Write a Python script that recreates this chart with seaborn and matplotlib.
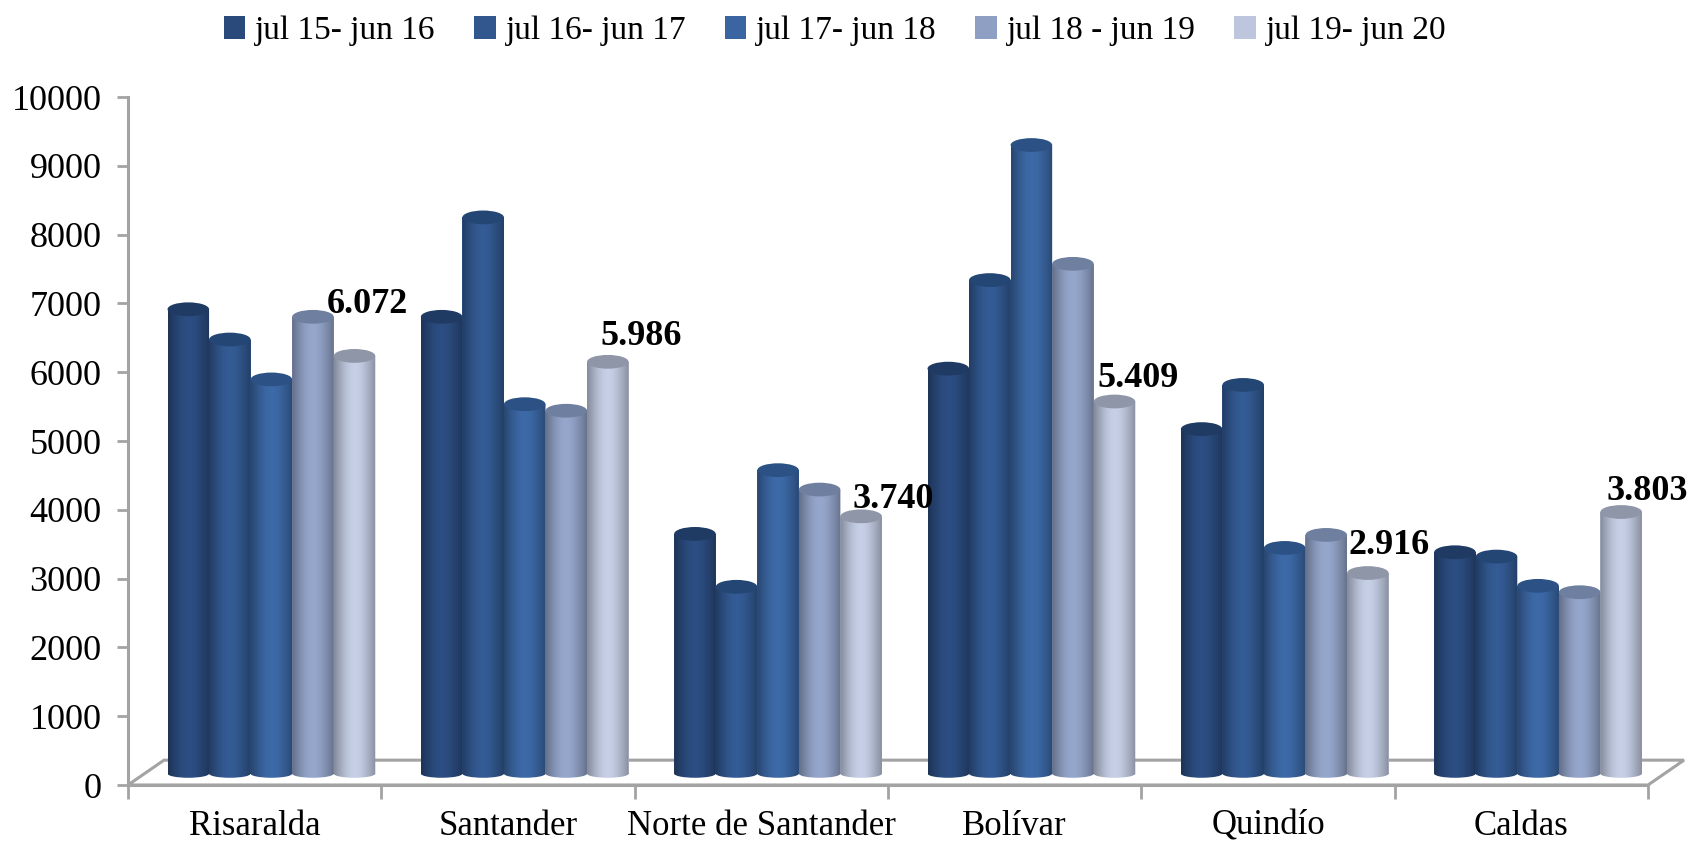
import numpy as np
import pandas as pd
import matplotlib
matplotlib.use('Agg')
import matplotlib.pyplot as plt
from matplotlib.patches import Ellipse, Polygon, PathPatch
from matplotlib.path import Path
import seaborn as sns

departamentos = ['Risaralda', 'Santander', 'Norte de Santander', 'Bolívar', 'Quindío', 'Caldas']
periodos = ['jul 15- jun 16', 'jul 16- jun 17', 'jul 17- jun 18', 'jul 18 - jun 19', 'jul 19- jun 20']

jul15 = [6750, 6640, 3485, 5887, 5008, 3218]
jul16 = [6310, 8085, 2716, 7174, 5650, 3155]
jul17 = [5730, 5370, 4411, 9137, 3281, 2730]
jul18 = [6640, 5275, 4129, 7410, 3470, 2637]
jul19 = [6072, 5986, 3740, 5409, 2916, 3803]

colores = ['#2a4a7c', '#31578e', '#3a65a0', '#8f9fc3', '#bdc6dc']
tapas = ['#1f3a63', '#234674', '#2c5285', '#6f7f9f', '#8e96a8']

# los desplazamientos de las etiquetas (puntos)
etiqueta_dx = [9, 24, 23, 17, 15, 19]
etiqueta_dy = [25, 6, 0, 5, 8, 3]

base = 165      # las barras arrancan un poco detras del eje
fondo = 361     # linea de atras del piso
gris = '#a3a3a3'

df = pd.DataFrame({'departamento': departamentos * 5,
                   'periodo': np.repeat(periodos, 6),
                   'valor': jul15 + jul16 + jul17 + jul18 + jul19})

plt.rcParams['font.family'] = ['Liberation Serif', 'DejaVu Serif']

fig = plt.figure(figsize=(16.92, 8.41), dpi=100)
ax = fig.add_axes([128 / 1692, 1 - 785 / 841, (1648 - 128) / 1692, (785 - 97) / 841])

sns.barplot(data=df, x='departamento', y='valor', hue='periodo', palette=colores,
            saturation=1, width=0.82, gap=0, ax=ax, errorbar=None, zorder=3)

desp = 0.066
x_min, x_max = -0.5 - desp, 5.5 - desp
alto_tapa = 200

# cilindros con degradado encima de cada barra
perfil = np.array([0.70, 0.80, 0.90, 0.98, 1.03, 1.05, 1.03, 0.98, 0.90, 0.82, 0.72])
z = 4
for cont, color, tapa in zip(ax.containers, colores, tapas):
    rgb = np.array(matplotlib.colors.to_rgb(color))
    xs = np.linspace(0, 1, 120)
    tono = np.interp(xs, np.linspace(0, 1, len(perfil)), perfil)
    img = np.clip(tono[None, :, None] * rgb[None, None, :], 0, 1)
    for bar in cont:
        bar.set_y(base)
        x0, w = bar.get_x(), bar.get_width()
        y0, y1 = base, base + bar.get_height()
        im = ax.imshow(img, extent=(x0, x0 + w, y0 - alto_tapa / 2, y1), aspect='auto',
                       interpolation='bilinear', zorder=z)
        pie = Ellipse((x0 + w / 2, y0), w, 120)
        forma = Path.make_compound_path(
            Path([(x0, y0), (x0 + w, y0), (x0 + w, y1), (x0, y1), (x0, y0)]),
            pie.get_path().transformed(pie.get_patch_transform()))
        im.set_clip_path(PathPatch(forma, transform=ax.transData))
        ax.add_patch(Ellipse((x0 + w / 2, y1), w, alto_tapa, facecolor=tapa,
                             edgecolor='none', zorder=z + 0.5))
        z += 1

ax.set_xlim(x_min, x_max)
ax.set_ylim(0, 10000)

# piso en perspectiva
dx = 36 / 1520 * 6
ax.add_patch(Polygon([(x_min, 0), (x_min + dx, fondo), (x_max + dx, fondo), (x_max, 0)],
                     closed=True, fill=False, edgecolor=gris, linewidth=2.2,
                     clip_on=False, zorder=2))

for lado in ['top', 'right']:
    ax.spines[lado].set_visible(False)
for lado in ['left', 'bottom']:
    ax.spines[lado].set_color(gris)
    ax.spines[lado].set_linewidth(2.2)

ax.set_xlabel('')
ax.set_ylabel('')
ax.set_yticks(np.arange(0, 10001, 1000))
ax.tick_params(axis='y', labelsize=26, length=8, width=2, color=gris, pad=11)
ax.set_xticks(np.arange(6) - desp)
ax.set_xticklabels(departamentos)
ax.set_xticks(np.arange(7) - 0.5 - desp, minor=True)
ax.tick_params(axis='x', which='major', length=0, labelsize=25, pad=18)
ax.tick_params(axis='x', which='minor', length=10, width=2, color=gris)

# etiquetas de la ultima serie
for bar, v, ex, ey in zip(ax.containers[4], jul19, etiqueta_dx, etiqueta_dy):
    texto = f'{v:,}'.replace(',', '.')
    ax.annotate(texto, (bar.get_x() + bar.get_width() / 2, bar.get_y() + bar.get_height()),
                xytext=(ex, ey), textcoords='offset points', ha='center', va='bottom',
                fontsize=26, fontweight='bold', color='black', zorder=100,
                annotation_clip=False)

ax.legend(loc='center', bbox_to_anchor=(835 / 1692, 1 - 31 / 841), bbox_transform=fig.transFigure,
          ncol=5, frameon=False, fontsize=24, handlelength=0.65, handleheight=0.65,
          handletextpad=0.3, columnspacing=1.15, title=None)

fig.savefig('out.png', dpi=100)
